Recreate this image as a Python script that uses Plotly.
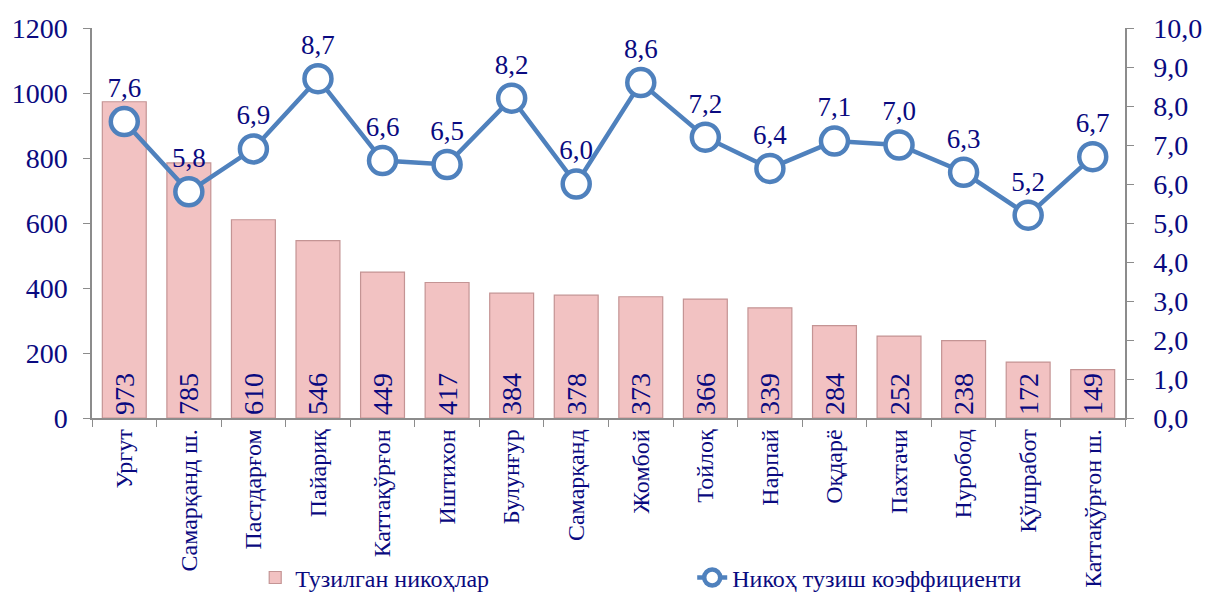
import plotly.graph_objects as go

categories = ["Ургут", "Самарқанд ш.", "Пастдарғом", "Пайариқ", "Каттақўрғон", "Иштихон",
              "Булунғур", "Самарқанд", "Жомбой", "Тойлоқ", "Нарпай", "Оқдарё",
              "Пахтачи", "Нуробод", "Қўшработ", "Каттақўрғон ш."]
marriages = [973, 785, 610, 546, 449, 417, 384, 378, 373, 366, 339, 284, 252, 238, 172, 149]
coefficient = [7.6, 5.8, 6.9, 8.7, 6.6, 6.5, 8.2, 6.0, 8.6, 7.2, 6.4, 7.1, 7.0, 6.3, 5.2, 6.7]

NAVY = "#0a0a80"
FONT = "Liberation Serif"
AXIS = "#8c8c8c"

fig = go.Figure()
fig.add_trace(go.Bar(
    x=categories, y=marriages, name="Тузилган никоҳлар",
    marker=dict(color="#f2c2c2", line=dict(color="#c49494", width=1.2)),
    width=0.68,
    text=[str(v) for v in marriages], textposition="inside",
    insidetextanchor="start", textangle=-90,
    textfont=dict(family=FONT, size=28, color=NAVY),
    yaxis="y",
))
fig.add_trace(go.Scatter(
    x=categories, y=coefficient, name="Никоҳ тузиш коэффициенти",
    mode="lines+markers+text",
    line=dict(color="#4f81bd", width=4.5),
    marker=dict(size=27, color="white", line=dict(color="#4f81bd", width=4.5)),
    texttemplate="%{y:.1f}", textposition="top center",
    textfont=dict(family=FONT, size=27, color=NAVY),
    yaxis="y2",
))

fig.update_layout(
    width=1205, height=593,
    margin=dict(l=92, r=80, t=28, b=175, autoexpand=False),
    paper_bgcolor="white", plot_bgcolor="white",
    separators=", ",
    font=dict(family=FONT, color=NAVY),
    uniformtext=dict(minsize=20, mode="show"),
    showlegend=True,
    legend=dict(orientation="h", x=0.158, y=-0.41, xanchor="left", yanchor="middle",
                entrywidth=392, font=dict(family=FONT, size=24, color=NAVY),
                bgcolor="rgba(0,0,0,0)"),
    xaxis=dict(range=[-0.5, len(categories) - 0.5], showline=True, linecolor=AXIS,
               linewidth=1.5, ticks="outside", tickson="boundaries", ticklen=7,
               tickcolor=AXIS, tickangle=-90,
               tickfont=dict(family=FONT, size=24, color=NAVY), showgrid=False,
               automargin=False),
    yaxis=dict(range=[0, 1200], dtick=200, showline=True, linecolor=AXIS, linewidth=1.5,
               ticks="outside", ticklen=7, tickcolor=AXIS, showgrid=False, zeroline=False,
               ticklabelstandoff=10,
               tickfont=dict(family=FONT, size=28, color=NAVY), automargin=False),
    yaxis2=dict(range=[0, 10], dtick=1, tickformat=".1f", overlaying="y", side="right",
                showline=True, linecolor=AXIS, linewidth=1.5, ticks="outside", ticklen=7,
                tickcolor=AXIS, showgrid=False, zeroline=False, ticklabelstandoff=14,
                tickfont=dict(family=FONT, size=28, color=NAVY), automargin=False),
    bargap=0.32,
)

fig.write_html("out.html", config={"displayModeBar": False},
               post_script="document.body.style.margin='0px';")
